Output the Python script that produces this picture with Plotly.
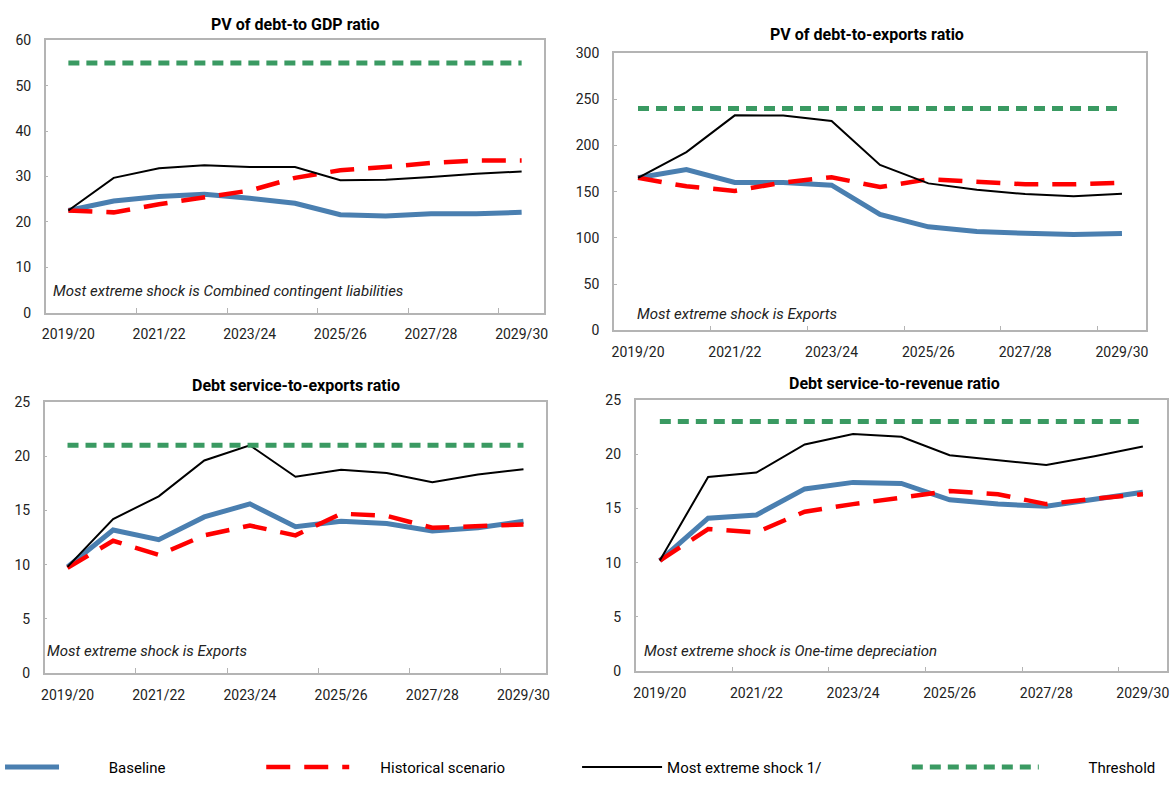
import plotly.graph_objects as go

periods = ["2019/20", "2020/21", "2021/22", "2022/23", "2023/24", "2024/25",
           "2025/26", "2026/27", "2027/28", "2028/29", "2029/30"]

# Panel 1: PV of debt-to GDP ratio
p1_baseline = [22.5, 24.6, 25.6, 26.1, 25.2, 24.1, 21.6, 21.3, 21.8, 21.8, 22.1]
p1_historical = [22.5, 22.1, 23.9, 25.5, 26.9, 29.7, 31.4, 32.1, 33.0, 33.5, 33.5]
p1_shock = [22.5, 29.7, 31.8, 32.5, 32.1, 32.1, 29.2, 29.3, 29.9, 30.6, 31.1]
p1_threshold = [55] * 11

# Panel 2: PV of debt-to-exports ratio
p2_baseline = [165, 174, 160, 160, 157, 125.5, 112, 107, 105, 103.6, 104.7]
p2_historical = [165, 155.8, 150.9, 160, 165.7, 155, 163.5, 161, 158, 158, 159.7]
p2_shock = [165, 192.8, 232.6, 232.5, 226.6, 179, 159, 152, 147.5, 145, 147.7]
p2_threshold = [240] * 11

# Panel 3: Debt service-to-exports ratio
p3_baseline = [9.8, 13.2, 12.3, 14.4, 15.6, 13.5, 14.0, 13.8, 13.1, 13.4, 14.0]
p3_historical = [9.7, 12.2, 10.9, 12.7, 13.6, 12.7, 14.7, 14.5, 13.4, 13.5, 13.7]
p3_shock = [9.8, 14.2, 16.3, 19.6, 21.0, 18.1, 18.75, 18.45, 17.6, 18.3, 18.8]
p3_threshold = [21] * 11

# Panel 4: Debt service-to-revenue ratio
p4_baseline = [10.2, 14.1, 14.4, 16.8, 17.4, 17.3, 15.8, 15.4, 15.2, 15.9, 16.5]
p4_historical = [10.2, 13.1, 12.8, 14.7, 15.4, 16.0, 16.6, 16.3, 15.4, 15.9, 16.3]
p4_shock = [10.2, 17.9, 18.3, 20.9, 21.85, 21.6, 19.9, 19.45, 19.0, 19.8, 20.7]
p4_threshold = [23] * 11

titles = ["PV of debt-to GDP ratio", "PV of debt-to-exports ratio",
          "Debt service-to-exports ratio", "Debt service-to-revenue ratio"]
notes = ["Most extreme shock is Combined contingent liabilities",
         "Most extreme shock is Exports",
         "Most extreme shock is Exports",
         "Most extreme shock is One-time depreciation"]
y_ranges = [(0, 60, 10), (0, 300, 50), (0, 25, 5), (0, 25, 5)]
series_names = ["Baseline", "Historical scenario", "Most extreme shock 1/", "Threshold"]

panels = [
    (p1_baseline, p1_historical, p1_shock, p1_threshold),
    (p2_baseline, p2_historical, p2_shock, p2_threshold),
    (p3_baseline, p3_historical, p3_shock, p3_threshold),
    (p4_baseline, p4_historical, p4_shock, p4_threshold),
]

W, H = 1175, 789
# plot-area pixel boxes (left, right, top, bottom)
boxes = [(42, 544, 33, 311), (614, 1150, 46, 329), (41, 546, 402, 679), (636, 1171, 400, 677)]
title_pos = [(293, 17), (869, 27), (294, 385), (897, 383)]
note_pos = [(0.011, 0.08), (0.039, 0.06), (0.001, 0.082), (0.011, 0.075)]

FONT = "Liberation Sans Narrow, Arial Narrow, Roboto, sans-serif"
GRAY = "#b4b4b4"
BLUE = "#4a7fb0"
RED = "#ff0000"
GREEN = "#3a9a62"

styles = [
    dict(color=BLUE, width=5),
    dict(color=RED, width=4.5, dash="24px,14px"),
    dict(color="black", width=2),
    dict(color=GREEN, width=5, dash="11px,7px"),
]
legend_ids = ["legend", "legend2", "legend3", "legend4"]
leg_x = [-4, 259, 577, 909]
leg_itemwidth = [54, 83, 80, 127]
leg_pad = [12, 7, 0, 12]

x = list(range(len(periods)))
fig = go.Figure()
layout = {}
annotations = []
for i, (data, box) in enumerate(zip(panels, boxes)):
    n = "" if i == 0 else str(i + 1)
    xa, ya = "x" + n, "y" + n
    for j, vals in enumerate(data):
        fig.add_trace(go.Scatter(
            x=x, y=vals, mode="lines", line=styles[j],
            name="\u00a0" * leg_pad[j] + series_names[j],
            xaxis=xa, yaxis=ya, showlegend=(i == 0), legend=legend_ids[j],
        ))
    l, r, t, b = box
    y0, y1, dt = y_ranges[i]
    layout["xaxis" + n] = dict(
        domain=[l / W, r / W], anchor=ya, range=[-0.5, 10.5],
        tickmode="array", tickvals=x[::2], ticktext=periods[::2], ticks="",
        showline=True, mirror=True, linecolor=GRAY, linewidth=1.5,
        showgrid=False, zeroline=False, ticklabelstandoff=8,
        tickfont=dict(family=FONT, size=14, color="#222"),
        minor=dict(tickmode="array", tickvals=[k + 0.5 for k in x[1::2]],
                   ticks="inside", ticklen=5, tickcolor=GRAY, tickwidth=1),
    )
    layout["yaxis" + n] = dict(
        domain=[1 - b / H, 1 - t / H], anchor=xa, range=[y0, y1], dtick=dt,
        showline=True, mirror=True, linecolor=GRAY, linewidth=1.5,
        showgrid=False, zeroline=False, ticks="inside", ticklen=3,
        tickcolor=GRAY, ticklabelstandoff=10,
        tickfont=dict(family=FONT, size=14, color="#222"),
    )
    tx, ty = title_pos[i]
    annotations.append(dict(
        text="<b>" + titles[i] + "</b>", x=tx / W, y=1 - ty / H, xref="paper", yref="paper",
        xanchor="center", yanchor="middle", showarrow=False,
        font=dict(family=FONT, size=16, color="black"),
    ))
    nx, ny = note_pos[i]
    annotations.append(dict(
        text="<i>" + notes[i] + "</i>", x=nx, y=ny, xref=xa + " domain", yref=ya + " domain",
        xanchor="left", yanchor="middle", showarrow=False,
        font=dict(family=FONT, size=15, color="#222"),
    ))

for k, lid in enumerate(legend_ids):
    layout[lid] = dict(
        x=leg_x[k] / W, y=1 - 775 / H, xanchor="left", yanchor="middle",
        orientation="h", bgcolor="rgba(0,0,0,0)", borderwidth=0,
        font=dict(family=FONT, size=15, color="black"), itemwidth=leg_itemwidth[k],
    )

fig.update_layout(
    **layout,
    annotations=annotations,
    width=W, height=H,
    margin=dict(l=0, r=0, t=0, b=0),
    paper_bgcolor="white", plot_bgcolor="white",
)
fig.write_html("out.html")
